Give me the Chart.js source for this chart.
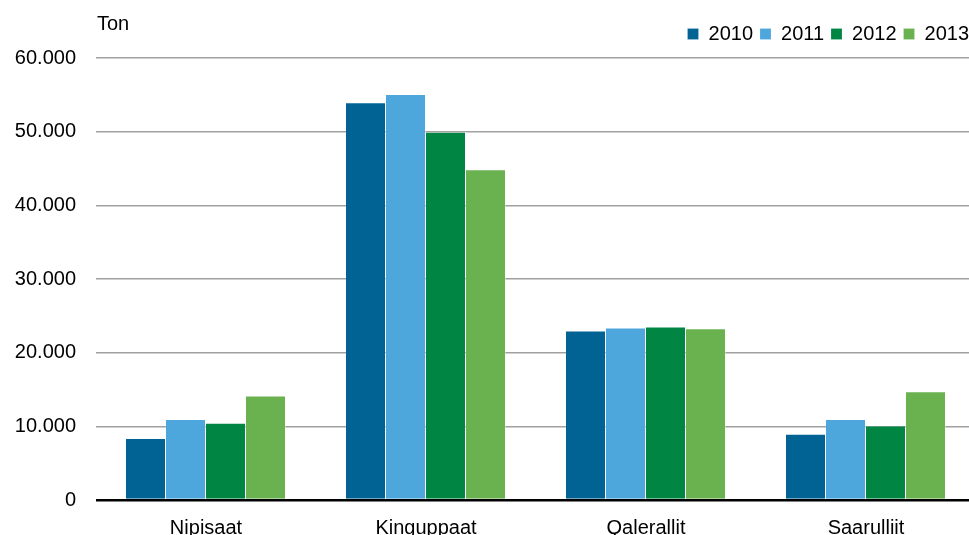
<!DOCTYPE html>
<html>
<head>
<meta charset="utf-8">
<script src="https://cdn.jsdelivr.net/npm/chart.js@4"></script>
<style>
  html, body { margin: 0; padding: 0; background: #fff; overflow: hidden; }
  #wrap { width: 969px; height: 535px; overflow: hidden; }
</style>
</head>
<body>
<div id="wrap"><canvas id="barChart" width="990" height="535"></canvas></div>
<script>
// Ton per category and year
const categories = ['Nipisaat', 'Kinguppaat', 'Qalerallit', 'Saarulliit'];
const years = ['2010', '2011', '2012', '2013'];
const values2010 = [8400, 54000, 23000, 9000];
const values2011 = [11000, 55100, 23400, 11000];
const values2012 = [10500, 50000, 23550, 10100];
const values2013 = [14200, 44900, 23300, 14750];
const yearColors = ['#006394', '#4da6dc', '#008542', '#6ab150'];
const yTicks = [0, 10000, 20000, 30000, 40000, 50000, 60000];

Chart.defaults.font.family = '"Liberation Sans", Arial, sans-serif';
Chart.defaults.font.size = 20;
Chart.defaults.color = '#000';

// unit label above the y axis, plus a bit more room under the legend
const unitLabel = {
  id: 'unitLabel',
  beforeLayout(chart) {
    const lg = chart.legend;
    if (lg && !lg._patched) {
      const fit = lg.fit;
      lg.fit = function () {
        fit.call(this);
        this.height += 4;
      };
      lg._patched = true;
    }
  },
  afterDraw(chart) {
    const ctx = chart.ctx;
    ctx.save();
    ctx.font = '20px "Liberation Sans", Arial, sans-serif';
    ctx.fillStyle = '#000';
    ctx.textBaseline = 'middle';
    ctx.fillText('Ton', chart.chartArea.left + 1, 24);
    ctx.restore();
  }
};

const seriesValues = [values2010, values2011, values2012, values2013];

const barChart = new Chart(document.getElementById('barChart'), {
  type: 'bar',
  data: {
    labels: categories,
    datasets: years.map((y, i) => ({
      label: y,
      data: seriesValues[i],
      backgroundColor: yearColors[i],
      borderColor: 'rgba(255,255,255,0.35)',
      borderWidth: { left: 0, right: 1, top: 1, bottom: 0 },
      categoryPercentage: 160 / 220,
      barPercentage: 1
    }))
  },
  options: {
    responsive: false,
    animation: false,
    layout: { padding: { left: 13, right: 14, top: 17, bottom: 0 } },
    plugins: {
      legend: {
        position: 'top',
        align: 'end',
        labels: {
          boxWidth: 11,
          boxHeight: 11,
          padding: 7,
          font: { size: 20 }
        }
      },
      tooltip: { enabled: false }
    },
    scales: {
      x: {
        grid: { display: false },
        border: { display: false },
        afterFit(axis) { axis.height = 35; },
        ticks: { padding: 8, font: { size: 20 } }
      },
      y: {
        min: 0,
        max: 60000,
        afterBuildTicks(axis) {
          axis.ticks = yTicks.map(v => ({ value: v }));
        },
        afterFit(axis) { axis.width = 83; },
        border: { display: false },
        grid: {
          drawTicks: false,
          color: c => c.tick && c.tick.value === 0 ? '#000' : '#a0a0a0',
          lineWidth: c => c.tick && c.tick.value === 0 ? 2.5 : 1.5
        },
        ticks: {
          padding: 20,
          font: { size: 20 },
          callback: v => v === 0 ? '0' : String(v).replace(/\B(?=(\d{3})+(?!\d))/g, '.')
        }
      }
    }
  },
  plugins: [unitLabel]
});
</script>
</body>
</html>
